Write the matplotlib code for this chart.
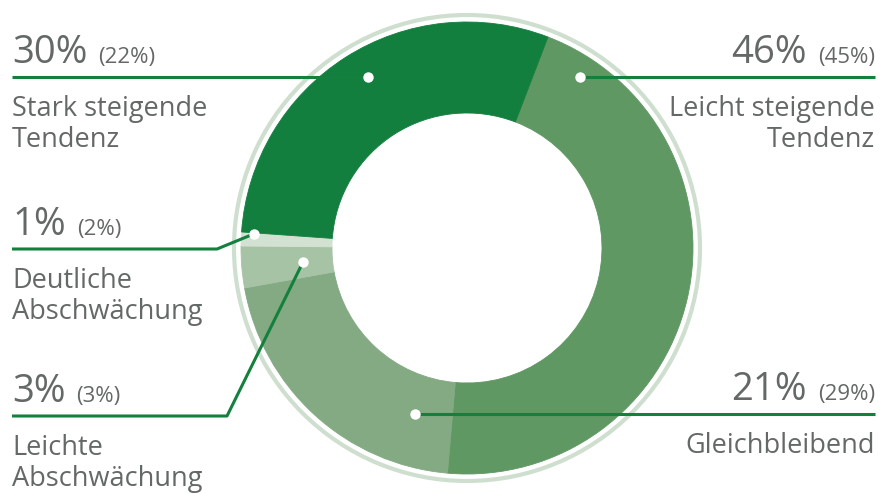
import numpy as np
import matplotlib
matplotlib.use('Agg')
import matplotlib.pyplot as plt
from matplotlib.patches import Circle

plt.rcParams['font.family'] = ['Open Sans', 'DejaVu Sans']

# data (current share, previous year in brackets)
labels = ['Leicht steigende\nTendenz', 'Gleichbleibend', 'Leichte\nAbschwächung',
          'Deutliche\nAbschwächung', 'Stark steigende\nTendenz']
shares = [46, 21, 3, 1, 30]
shares_prev = [45, 29, 3, 2, 22]

colors = ['#5f9862', '#83aa83', '#a7c3a6', '#d3e1d2', '#137f3f']
ring_color = '#cfdfcf'
line_color = '#13803d'
text_color = '#646867'

# layout in pixel coords (y up), figure is 880 x 494
cx, cy = 467, 246
# dot position on the ring: angle (deg), radius (px)
dot_polar = [(56.5, 205), (-107.4, 174), (-175.1, 164.6), (176.2, 213.5), (120.1, 197.6)]
# side of the label and elbow of the leader (None = straight)
side = ['right', 'right', 'left', 'left', 'left']
elbow = [None, None, (227, 78), (217, 245), None]
x_left, x_right = 12, 875
line_step = 31

fig = plt.figure(figsize=(8.8, 4.94), dpi=100)
ax = fig.add_axes([0, 0, 1, 1])

wedges, _ = ax.pie(shares, colors=colors, startangle=69, counterclock=False,
                   radius=226, center=(cx, cy),
                   wedgeprops=dict(width=91, linewidth=0.6))
for w in wedges:
    w.set_edgecolor(w.get_facecolor())

ax.add_patch(Circle((cx, cy), 233, fill=False, lw=3, color=ring_color))

for i in range(len(shares)):
    ang, r = dot_polar[i]
    dx = cx + r * np.cos(np.radians(ang))
    dy = cy + r * np.sin(np.radians(ang))
    if elbow[i] is None:
        ly = dy
        xs, ys = [dx], [dy]
    else:
        ly = elbow[i][1]
        xs, ys = [dx, elbow[i][0]], [dy, elbow[i][1]]
    xend = x_left if side[i] == 'left' else x_right
    ax.plot(xs + [xend], ys + [ly], color=line_color, lw=2.2,
            solid_capstyle='butt', zorder=3)
    ax.plot(dx, dy, 'o', ms=7.5, mfc='white', mec='none', zorder=4)

    big_txt = f'{shares[i]}%'
    small_txt = f'({shares_prev[i]}%)'
    xt = x_left if side[i] == 'left' else x_right
    ha = side[i]
    if side[i] == 'left':
        big = ax.text(x_left, ly + 14, big_txt, ha='left', va='baseline',
                      size=27.5, color=text_color)
        ax.annotate(small_txt, xy=(1, 0), xycoords=big, xytext=(8, 2.8),
                    textcoords='offset points', ha='left', va='bottom',
                    size=16, color=text_color)
    else:
        small = ax.text(x_right, ly + 14, small_txt, ha='right', va='baseline',
                        size=16, color=text_color)
        ax.annotate(big_txt, xy=(0, 0), xycoords=small, xytext=(-8, -2.8),
                    textcoords='offset points', ha='right', va='bottom',
                    size=27.5, color=text_color)
    for k, part in enumerate(labels[i].split('\n')):
        ax.text(xt, ly - 39 - k * line_step, part, ha=ha, va='baseline',
                size=19.5, color=text_color)

ax.set_xlim(0, 880)
ax.set_ylim(0, 494)
ax.set_aspect('equal')
ax.axis('off')

fig.savefig('out.png', dpi=100)
